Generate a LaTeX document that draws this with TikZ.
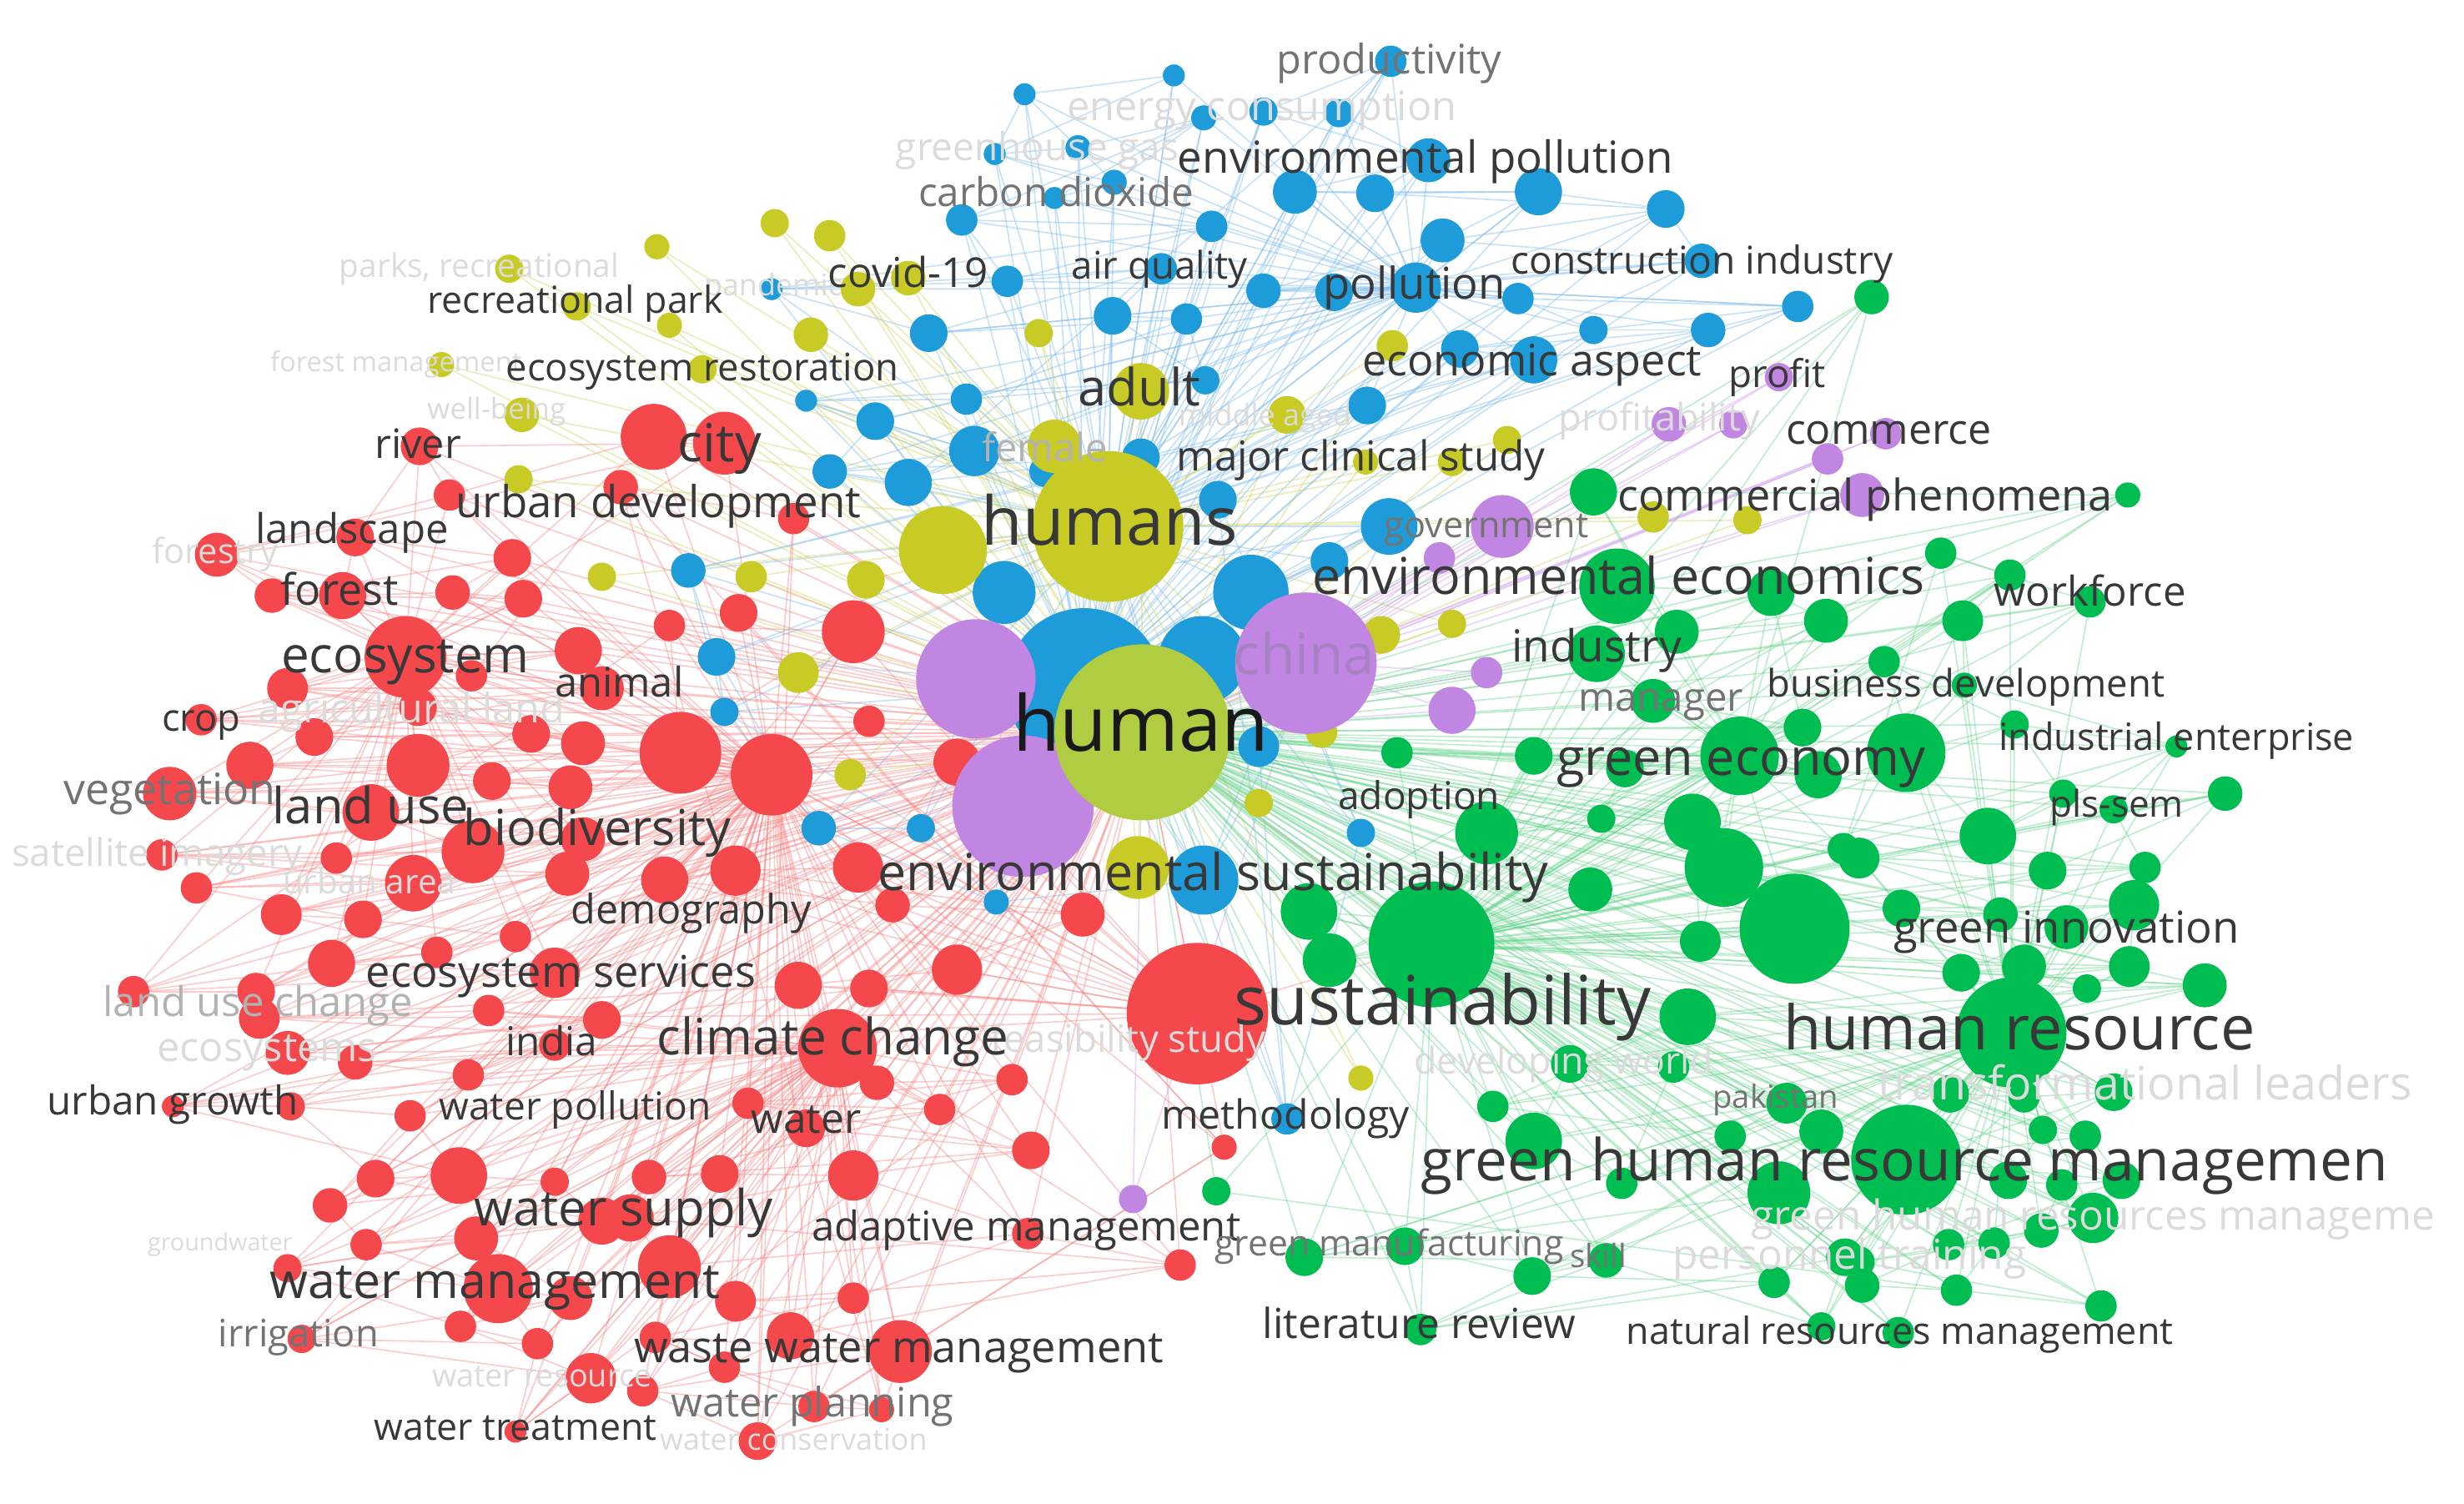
\documentclass[tikz,border=0pt]{standalone}
\usepackage{fontspec}
\setmainfont{Open Sans}
\pgfdeclarelayer{bg}
\pgfsetlayers{bg,main}
\definecolor{cR}{RGB}{245,72,76}
\definecolor{cG}{RGB}{0,189,82}
\definecolor{cB}{RGB}{30,156,218}
\definecolor{cY}{RGB}{200,202,38}
\definecolor{cP}{RGB}{192,134,226}
\definecolor{cL}{RGB}{176,204,64}
\definecolor{eR}{RGB}{248,130,130}
\definecolor{eG}{RGB}{100,212,140}
\definecolor{eB}{RGB}{120,185,238}
\definecolor{eY}{RGB}{205,210,90}
\definecolor{eP}{RGB}{205,155,235}
\colorlet{tD}{black!78}
\colorlet{tM}{black!55}
\colorlet{tL}{black!14}
\colorlet{tF}{black!30}
\definecolor{tP}{RGB}{168,128,196}
\tikzset{
  bub/.style={circle,inner sep=0pt,outer sep=0pt,draw=none},
  lab/.style={inner sep=0pt,outer sep=0pt},
  ed/.style={line width=0.85pt,opacity=0.42},
}
\begin{document}
\begin{tikzpicture}[x=1pt,y=-1pt]
\useasboundingbox (0,0) rectangle (1568,957);

% red cluster
\foreach \x/\y/\r [count=\i] in {416/278/21,461/282/20,267/284/12,286/315/10,138/353/14,226/342/12,326/355/12,173/379/11,218/379/15,288/377/11,
333/381/12,258/418/26,368/414/15,183/438/13,383/438/14,128/458/10,266/450/12,200/469/12,338/467/12,371/473/14,
159/487/15,266/487/20,313/497/12,363/501/14,108/505/17,236/517/18,301/542/20,371/534/14,214/546/10,103/544/10,
263/562/18,125/565/10,361/556/14,179/582/13,231/585/12,328/596/10,278/606/10,211/613/15,353/619/16,85/631/10,
163/631/12,543/402/20,426/398/10,433/479/26,491/493/26,553/459/10,609/485/15,423/560/15,468/554/16,546/552/16,
568/576/11,689/582/14,609/617/16,508/627/15,553/629/12,762/645/45,165/648/13,183/670/14,226/676/11,311/643/10,
383/649/12,298/684/10,353/665/10,110/704/7,185/704/9,261/710/10,292/748/18,239/750/12,210/767/11,353/752/9,
383/777/15,233/792/10,303/788/14,183/807/9,317/820/22,363/826/14,293/844/10,342/855/10,192/852/9,376/877/16,
328/911/7,533/667/25,558/689/11,644/687/10,476/702/10,598/706/10,513/718/12,656/732/12,413/749/11,458/747/12,
543/748/16,401/775/15,426/806/20,654/785/10,751/805/10,468/828/13,543/826/10,503/850/15,573/860/20,417/851/10,
461/870/10,409/885/10,518/895/10,561/897/8,482/917/12,779/730/8,395/310/11,505/330/10,470/390/12,300/430/10}
  \node[bub,fill=cR,minimum size={2*\r pt}] (R\i) at (\x,\y) {};

% blue cluster
\foreach \x/\y/\r [count=\i] in {747/48/7,652/60/7,633/98/7,686/94/8,709/116/8,766/75/8,671/126/7,612/140/10,771/144/10,641/179/10,
491/184/7,739/171/10,591/212/12,708/201/12,755/203/10,767/242/9,615/254/10,513/255/7,557/268/12,620/287/16,
528/300/11,578/307/15,726/291/12,885/39/10,804/71/9,852/72/9,909/102/14,824/122/14,875/123/12,979/122/15,
1060/133/12,918/153/14,1083/166/11,804/185/11,849/186/12,901/183/16,966/190/10,1144/195/10,1014/210/9,1087/210/11,
929/222/12,976/229/15,870/258/12,438/363/11,456/418/12,461/453/9,521/527/11,586/527/9,634/574/8,639/377/20,
766/560/22,884/335/18,846/357/12,796/377/24,801/475/13,866/530/9,819/712/10,775/318/12,665/300/10}
  \node[bub,fill=cB,minimum size={2*\r pt}] (B\i) at (\x,\y) {};

% green cluster
\foreach \x/\y/\r [count=\i] in {1191/189/11,1014/313/15,1354/315/8,1029/373/24,1067/402/14,1162/395/14,1127/377/15,1016/416/18,1052/446/14,1147/463/12,
1107/481/25,1157/493/15,1034/489/12,976/481/12,889/479/10,1019/521/9,946/530/20,1077/523/18,1097/552/25,1012/566/14,
1082/599/13,1142/591/35,911/601/40,833/580/18,846/611/17,1173/540/10,1235/352/10,1279/366/10,1249/395/13,1330/383/10,
1199/421/10,1250/436/8,1213/479/25,1282/461/9,1385/475/7,1265/532/18,1313/505/9,1345/515/9,1416/505/11,1303/554/12,
1365/552/10,1183/546/13,1210/578/12,1273/582/11,1315/590/14,1358/576/16,1288/615/14,1248/619/12,1355/615/13,1328/629/9,
1403/627/14,1074/647/18,999/677/12,1065/679/10,950/704/10,976/726/18,1032/753/10,1101/723/10,1137/702/13,1159/720/14,
1132/759/20,830/800/12,894/793/12,975/812/12,1022/802/11,904/846/10,1129/816/10,1159/844/9,1174/800/12,1280/657/35,
1241/696/12,1288/698/10,1345/695/12,1300/719/9,1327/723/10,1213/738/35,1278/751/12,1312/754/10,1350/751/12,1332/775/16,
1299/783/11,1240/792/10,1269/791/10,1183/803/10,1185/818/11,1245/821/10,1337/831/10,1208/848/10,774/758/9}
  \node[bub,fill=cG,minimum size={2*\r pt}] (G\i) at (\x,\y) {};

% purple cluster
\foreach \x/\y/\r [count=\i] in {1132/240/9,1062/270/11,1103/270/9,1163/292/10,1200/276/10,956/335/20,916/355/10,946/428/10,924/452/15,721/763/9,1185/315/14}
  \node[bub,fill=cP,minimum size={2*\r pt}] (P\i) at (\x,\y) {};

% yellow cluster
\foreach \x/\y/\r [count=\i] in {493/142/9,528/150/10,418/157/8,546/184/11,578/177/11,516/213/11,426/207/8,661/212/9,447/235/9,726/249/18,
671/284/17,324/171/9,367/195/9,281/232/8,332/264/11,330/305/9,886/220/10,819/264/12,959/280/9,924/294/9,
869/294/8,383/367/9,478/367/10,551/369/12,508/428/13,541/493/10,724/552/20,879/404/12,924/397/9,841/466/10,
801/511/9,1112/331/9,1052/329/10,866/686/8,600/350/28}
  \node[bub,fill=cY,minimum size={2*\r pt}] (Y\i) at (\x,\y) {};

% central large items
\node[bub,fill=cY,minimum size=96pt] (humans) at (705,335) {};
\node[bub,fill=cB,minimum size=56pt] (bigblueB) at (765,420) {};
\node[bub,fill=cB,minimum size=100pt] (bigblue) at (690,437) {};
\node[bub,fill=cP,minimum size=76pt] (purA) at (621,432) {};
\node[bub,fill=cP,minimum size=90pt] (purB) at (651,513) {};
\node[bub,fill=cP,minimum size=90pt] (china) at (831,422) {};
\node[bub,fill=cL,minimum size=112pt] (human) at (727,466) {};

% connectors (behind the bubbles)
\begin{pgfonlayer}{bg}
\fill[white] (0,0) rectangle (1568,957);
\foreach \i [evaluate=\i as \j using int(\i+1), evaluate=\i as \k using int(\i+3)] in {1,...,107}
  {\draw[ed,eR] (R\i) -- (R\j); \draw[ed,eR] (R\i) -- (R\k);}
\foreach \i in {1,...,110} {\draw[ed,eR] (R\i) -- (human); \draw[ed,eR] (R\i) -- (R45);}
\foreach \i in {1,...,41} {\draw[ed,eR] (R\i) -- (R12);}
\foreach \i in {57,...,105} {\draw[ed,eR] (R\i) -- (R82);}
\foreach \i in {42,...,55} {\draw[ed,eR] (R\i) -- (R56);}
\foreach \i [evaluate=\i as \j using int(\i+1), evaluate=\i as \k using int(\i+2)] in {1,...,57}
  {\draw[ed,eB] (B\i) -- (B\j); \draw[ed,eB] (B\i) -- (B\k);}
\foreach \i in {1,...,59} {\draw[ed,eB] (B\i) -- (bigblue); \draw[ed,eB] (B\i) -- (humans);}
\foreach \i in {1,...,43} {\draw[ed,eB] (B\i) -- (B36);}
\foreach \i in {1,...,35} {\draw[ed,eY] (Y\i) -- (humans); \draw[ed,eY] (Y\i) -- (human);}
\foreach \i in {1,...,11} {\draw[ed,eP] (P\i) -- (china); \draw[ed,eP] (P\i) -- (human);}
\foreach \i [evaluate=\i as \j using int(\i+1), evaluate=\i as \k using int(\i+3)] in {1,...,86}
  {\draw[ed,eG] (G\i) -- (G\j); \draw[ed,eG] (G\i) -- (G\k);}
\foreach \i in {1,...,89} {\draw[ed,eG] (G\i) -- (G23); \draw[ed,eG] (G\i) -- (human);}
\foreach \i in {27,...,88} {\draw[ed,eG] (G\i) -- (G70);}
\foreach \i in {1,...,26} {\draw[ed,eG] (G\i) -- (G11);}
\draw[ed,eR] (R56) -- (G23);
\draw[ed,eB] (bigblue) -- (G23);
\draw[ed,eY] (human) -- (G23);
\draw[ed,eP] (purA) -- (china);
\draw[ed,eP] (purB) -- (china);
\draw[ed,eY] (humans) -- (human);
\end{pgfonlayer}

% faint labels
\foreach \x/\y/\w/\t/\c [count=\i] in {
803/70/248/energy consumption/tL,
660/96/180/greenhouse gas/tL,
305/171/178/{parks, recreational}/tL,
492/183/88/pandemic/tL,
1056/268/128/profitability/tL,
252/232/160/forest management/tL,
316/262/88/well-being/tL,
805/266/110/middle aged/tL,
665/287/80/female/tF,
137/353/80/forestry/tL,
262/453/195/agricultural land/tL,
100/545/185/satellite imagery/tL,
235/563/110/urban area/tL,
164/640/197/land use change/tF,
170/669/140/ecosystems/tL,
718/663/175/feasibility study/tL,
995/677/190/developing world/tL,
1365/692/340/transformational leaders/tL,
1332/776/435/green human resources manageme/tL,
1177/801/225/personnel training/tL,
140/792/92/groundwater/tL,
345/877/140/water resource/tL,
505/918/170/water conservation/tL}
  \node[lab,text=\c] (F\i) at (\x,\y) {\resizebox{\w pt}{!}{\vphantom{hg}\t}};

% main labels
\foreach \x/\y/\w/\t/\c [count=\i] in {
884/40/143/productivity/tM,
907/103/315/environmental pollution/tD,
672/125/175/carbon dioxide/tM,
366/193/188/recreational park/tD,
578/176/102/covid-19/tD,
738/171/112/air quality/tD,
900/183/116/pollution/tD,
1083/168/243/construction industry/tD,
975/232/216/economic aspect/tD,
1131/240/62/profit/tD,
1202/276/131/commerce/tD,
447/236/250/ecosystem restoration/tD,
725/250/78/adult/tD,
866/293/235/major clinical study/tD,
458/285/53/city/tD,
266/285/55/river/tD,
419/322/258/urban development/tD,
224/339/123/landscape/tD,
706/336/163/humans/tD,
946/336/130/government/tM,
1187/318/315/commercial phenomena/tD,
1030/370/390/environmental economics/tD,
1330/379/122/workforce/tD,
216/378/75/forest/tD,
258/420/158/ecosystem/tD,
394/437/82/animal/tD,
128/459/50/crop/tD,
830/420/90/china/tP,
1016/414/108/industry/tD,
1057/446/105/manager/tM,
1251/437/253/business development/tD,
1385/471/226/industrial enterprise/tD,
726/465/163/human/black!90,
1108/485/235/green economy/tD,
1347/514/85/pls-sem/tD,
903/509/103/adoption/tD,
108/505/135/vegetation/tM,
236/516/125/land use/tD,
380/530/170/biodiversity/tD,
772/558/427/environmental sustainability/tD,
440/581/153/demography/tD,
357/621/248/ecosystem services/tD,
1315/593/220/green innovation/tD,
918/641/265/sustainability/tD,
1285/658/300/human resource/tD,
351/665/58/india/tD,
530/663/224/climate change/tD,
1130/700/80/pakistan/tM,
110/703/160/urban growth/tD,
366/706/173/water pollution/tD,
513/714/70/water/tD,
818/712/158/methodology/tD,
1212/742/615/green human resource managemen/tD,
397/772/190/water supply/tD,
653/783/273/adaptive management/tD,
884/793/222/green manufacturing/tM,
1017/801/36/skill/tM,
315/818/286/water management/tD,
190/851/102/irrigation/tM,
903/845/199/literature review/tD,
1209/849/348/natural resources management/tD,
572/860/337/waste water management/tD,
517/895/180/water planning/tM,
328/910/180/water treatment/tD}
  \node[lab,text=\c] (T\i) at (\x,\y) {\resizebox{\w pt}{!}{\vphantom{hg}\t}};
\end{tikzpicture}
\end{document}
